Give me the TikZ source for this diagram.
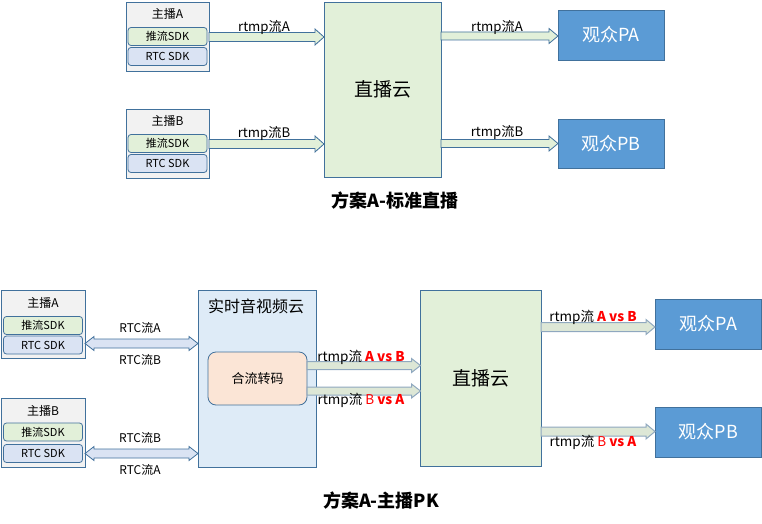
\documentclass[tikz,border=0pt]{standalone}
\usepackage{fontspec}
\setmainfont{Noto Sans CJK SC}
\usetikzlibrary{calc}
\definecolor{bd}{HTML}{41719C}
\definecolor{gfill}{HTML}{E2F0D9}
\definecolor{bfill}{HTML}{DAE3F3}
\definecolor{hfill}{HTML}{F2F2F2}
\definecolor{pfill}{HTML}{5B9BD5}
\definecolor{ofill}{HTML}{FBE5D6}
\definecolor{cfill}{HTML}{DEEBF7}
\definecolor{gbd}{HTML}{8FA8BF}
\definecolor{agfill}{HTML}{DDE7D6}
\newcommand\fs[1]{\fontsize{#1}{#1}\selectfont}
\newcommand\blockarr[5]{%
  \draw[#1] ($(#2)+(0,#4)$) -- ($(#3)+(-9,#4)$) -- ($(#3)+(-9,#5)$) -- (#3) -- ($(#3)+(-9,-#5)$) -- ($(#3)+(-9,-#4)$) -- ($(#2)+(0,-#4)$) -- cycle;}
\newcommand\dblarr[5]{%
  \draw[#1] (#2) -- ($(#2)+(9,#5)$) -- ($(#2)+(9,#4)$) -- ($(#3)+(-9,#4)$) -- ($(#3)+(-9,#5)$) -- (#3) -- ($(#3)+(-9,-#5)$) -- ($(#3)+(-9,-#4)$) -- ($(#2)+(9,-#4)$) -- ($(#2)+(9,-#5)$) -- cycle;}
\tikzset{
  box/.style={draw=bd, line width=0.8pt, inner sep=0pt, outer sep=0pt},
  host/.style={box, fill=hfill, minimum width=83pt, minimum height=69pt},
  push/.style={box, fill=gfill, rounded corners=3pt, minimum width=79pt, minimum height=18pt, font=\fs{11}},
  rtcsdk/.style={box, fill=bfill, rounded corners=3pt, minimum width=79pt, minimum height=18pt, font=\fs{11}},
  cloud/.style={box, fill=gfill, font=\fs{19}},
  viewer/.style={box, fill=pfill, text=white, minimum width=106pt, minimum height=50pt, font=\fs{18}},
  lbl/.style={inner sep=0pt, font=\fs{12}},
  rlbl/.style={inner sep=0pt, font=\fs{13.5}},
  title/.style={inner sep=0pt, font=\fs{18}\bfseries},
  garr/.style={draw=bd, fill=gfill, line width=0.8pt},
  barr/.style={draw=bd, fill=bfill, line width=0.8pt},
  marr/.style={draw=gbd, fill=agfill, line width=1pt}
}
\begin{document}
\begin{tikzpicture}[x=1pt,y=-1pt]
\useasboundingbox (0,0) rectangle (762,524);
% ---------- top ----------
\node[host] (hA) at (167.5,36.5) {};
\node[lbl] (hAl) at (167.5,14) {主播A};
\node[push] (hAp) at (167.5,36.5) {推流SDK};
\node[rtcsdk] (hAr) at (167.5,56.5) {RTC SDK};
\node[host] (hB) at (167.5,143.5) {};
\node[lbl] (hBl) at (167.5,121) {主播B};
\node[push] (hBp) at (167.5,143.5) {推流SDK};
\node[rtcsdk] (hBr) at (167.5,163.5) {RTC SDK};
\node[cloud, minimum width=117pt, minimum height=175pt] (c1) at (382.5,89.5) {直播云};
\node[viewer] (pA) at (611,35) {观众PA};
\node[viewer, minimum height=49pt] (pB) at (611,143.5) {观众PB};
\coordinate (a1s) at (hA.east |- 0,37);
\coordinate (a1e) at (c1.west |- 0,37);
\coordinate (b1s) at (hB.east |- 0,144);
\coordinate (b1e) at (c1.west |- 0,144);
\coordinate (a2s) at (c1.east |- 0,36);
\coordinate (a2e) at (pA.west |- 0,36);
\coordinate (b2s) at (c1.east |- 0,143.5);
\coordinate (b2e) at (pB.west |- 0,143.5);
\blockarr{garr}{a1s}{a1e}{4.5}{8}
\blockarr{garr}{b1s}{b1e}{4.5}{8}
\blockarr{garr}{a2s}{a2e}{4}{7.5}
\blockarr{garr}{b2s}{b2e}{4}{7.5}
\node[rlbl, font=\fs{13.2}] (t1) at (264,27) {rtmp流A};
\node[rlbl, font=\fs{13.2}] (t2) at (264,133) {rtmp流B};
\node[rlbl, font=\fs{13.2}] (t3) at (497,27) {rtmp流A};
\node[rlbl, font=\fs{13.2}] (t4) at (497,132.5) {rtmp流B};
\node[title] (T1) at (395,201) {方案A-标准直播};
% ---------- bottom ----------
\node[host, minimum width=84pt, minimum height=68pt] (gA) at (43,324) {};
\node[lbl] (gAl) at (43,303) {主播A};
\node[push] (gAp) at (43,325.5) {推流SDK};
\node[rtcsdk] (gAr) at (43,345) {RTC SDK};
\node[host, minimum width=84pt, minimum height=69pt] (gB) at (43,432.5) {};
\node[lbl] (gBl) at (43,411) {主播B};
\node[push] (gBp) at (43,432) {推流SDK};
\node[rtcsdk] (gBr) at (43,453.5) {RTC SDK};
\node[box, fill=cfill, minimum width=118pt, minimum height=177pt] (rc) at (257,378.5) {};
\node[inner sep=0pt, font=\fs{16}] (rcl) at (256,306) {实时音视频云};
\node[box, fill=ofill, rounded corners=8pt, minimum width=99pt, minimum height=53pt, font=\fs{13}] (mx) at (257.5,378.5) {合流转码};
\node[cloud, minimum width=120.5pt, minimum height=176pt] (c2) at (480.75,378) {直播云};
\node[viewer, minimum width=106.5pt] (qA) at (708.25,324) {观众PA};
\node[viewer, minimum width=106.5pt] (qB) at (708.25,432) {观众PB};
\coordinate (r1s) at (gA.east |- 0,343.5);
\coordinate (r1e) at (rc.west |- 0,343.5);
\coordinate (r2s) at (gB.east |- 0,453.5);
\coordinate (r2e) at (rc.west |- 0,453.5);
\dblarr{barr}{r1s}{r1e}{4.5}{7}
\dblarr{barr}{r2s}{r2e}{4.5}{7}
\node[lbl] (l1) at (140,328) {RTC流A};
\node[lbl] (l2) at (140,360) {RTC流B};
\node[lbl] (l3) at (140,438) {RTC流B};
\node[lbl] (l4) at (140,470) {RTC流A};
\coordinate (m1s) at (mx.east |- 0,365.5);
\coordinate (m1e) at (c2.west |- 0,365.5);
\coordinate (m2s) at (mx.east |- 0,391);
\coordinate (m2e) at (c2.west |- 0,391);
\blockarr{marr}{m1s}{m1e}{4}{7}
\blockarr{marr}{m2s}{m2e}{4}{7}
\coordinate (n1s) at (c2.east |- 0,327);
\coordinate (n1e) at (qA.west |- 0,327);
\coordinate (n2s) at (c2.east |- 0,431.5);
\coordinate (n2e) at (qB.west |- 0,431.5);
\blockarr{marr}{n1s}{n1e}{4.5}{7.5}
\blockarr{marr}{n2s}{n2e}{4.5}{7.5}
\node[rlbl] (k1) at (361,357) {rtmp流\ \textcolor{red}{\bfseries A vs B}};
\node[rlbl] (k2) at (361,400) {rtmp流\ \textcolor{red}{B \bfseries vs A}};
\node[rlbl] (k3) at (593,317.5) {rtmp流\ \textcolor{red}{\bfseries A vs B}};
\node[rlbl] (k4) at (593,442.5) {rtmp流\ \textcolor{red}{B \bfseries vs A}};
\node[title] (T2) at (381,501) {方案A-主播PK};
\end{tikzpicture}
\end{document}
